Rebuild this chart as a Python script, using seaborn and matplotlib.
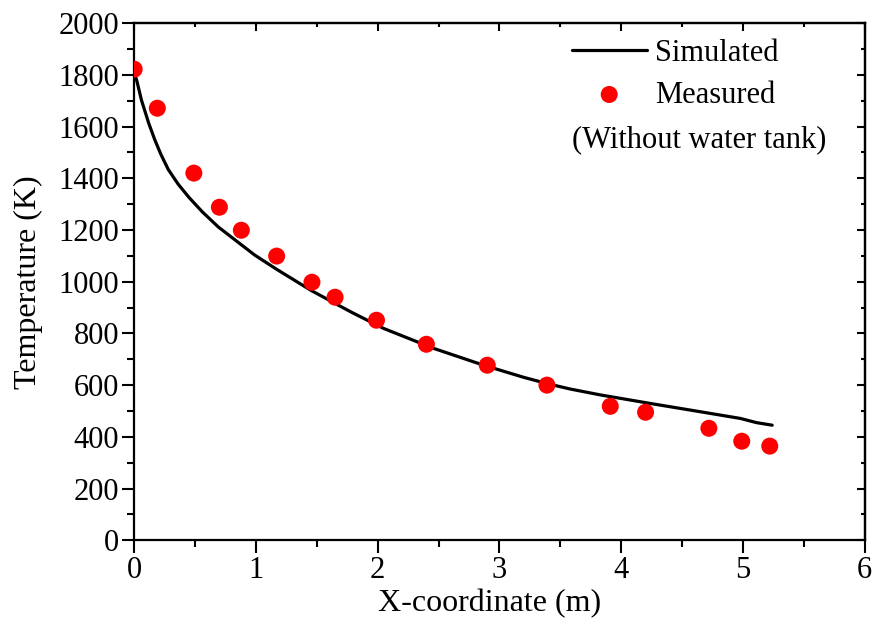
import matplotlib
matplotlib.use("Agg")
import matplotlib.pyplot as plt
import seaborn as sns
import pandas as pd

sns.set_style("ticks")
plt.rcParams['font.family'] = ['Liberation Serif', 'DejaVu Serif']
plt.rcParams['text.color'] = 'black'
plt.rcParams['axes.labelcolor'] = 'black'
plt.rcParams['xtick.color'] = 'black'
plt.rcParams['ytick.color'] = 'black'
plt.rcParams['axes.edgecolor'] = 'black'

# Simulated curve
sim_x = [0.0, 0.02, 0.06, 0.12, 0.17, 0.22, 0.28, 0.36, 0.45, 0.56, 0.69, 0.83,
         0.99, 1.17, 1.45, 1.78, 2.05, 2.46, 2.87, 3.20, 3.39, 3.58, 3.83, 4.24,
         4.65, 4.98, 5.11, 5.24]
sim_T = [1810, 1780, 1702, 1612, 1548, 1492, 1434, 1378, 1326, 1270, 1212, 1161,
         1103, 1048, 967, 883, 819, 742, 677, 630, 606, 585, 562, 529,
         497, 471, 455, 445]

# Measured points
meas_x = [0.0, 0.19, 0.49, 0.70, 0.88, 1.17, 1.46, 1.65, 1.99, 2.40, 2.90, 3.39,
          3.91, 4.20, 4.72, 4.99, 5.22]
meas_T = [1822, 1671, 1420, 1288, 1199, 1099, 998, 940, 851, 758, 677, 600,
          518, 495, 433, 383, 364]

xticks = [0, 1, 2, 3, 4, 5, 6]
yticks = [0, 200, 400, 600, 800, 1000, 1200, 1400, 1600, 1800, 2000]

sim = pd.DataFrame({"x": sim_x, "T": sim_T})
meas = pd.DataFrame({"x": meas_x, "T": meas_T})

fig = plt.figure(figsize=(8.77, 6.26), dpi=100)
ax = fig.add_axes([0.153, 0.137, 0.833, 0.826])

sns.lineplot(data=sim, x="x", y="T", ax=ax, color="black", linewidth=2.3,
             label="Simulated", sort=False)
sns.scatterplot(data=meas, x="x", y="T", ax=ax, color="#ff0000", s=150,
                edgecolor="none", label="Measured", zorder=3)

ax.set_xlim(0, 6)
ax.set_ylim(0, 2000)
ax.set_xticks(xticks)
ax.set_yticks(yticks)
ax.set_xticks([0.5 + i for i in range(6)], minor=True)
ax.set_yticks([100 + 200 * i for i in range(10)], minor=True)
ax.set_xlabel("X-coordinate (m)", fontsize=23, labelpad=3)
ax.set_ylabel("Temperature (K)", fontsize=23, labelpad=11)
ax.xaxis.label.set_x(0.487)
ax.tick_params(axis="both", which="major", labelsize=22, direction="out",
               length=9, width=1.5, pad=2)
ax.tick_params(axis="both", which="minor", direction="out", length=5, width=1.5)
for s in ax.spines.values():
    s.set_linewidth(1.6)
    s.set_visible(True)

secx = ax.secondary_xaxis("top")
secx.set_xticks(xticks)
secx.set_xticks([0.5 + i for i in range(6)], minor=True)
secx.tick_params(which="major", direction="in", length=6, width=1.5, labeltop=False)
secx.tick_params(which="minor", direction="in", length=3, width=1.5)
secx.spines["top"].set_linewidth(1.6)
secy = ax.secondary_yaxis("right")
secy.set_yticks(yticks)
secy.set_yticks([100 + 200 * i for i in range(10)], minor=True)
secy.tick_params(which="major", direction="in", length=6, width=1.5, labelright=False)
secy.tick_params(which="minor", direction="in", length=3, width=1.5)
secy.spines["right"].set_linewidth(1.6)

leg = ax.legend(loc="upper left", bbox_to_anchor=(0.599, 0.970), frameon=False,
                fontsize=22, handlelength=2.45, handletextpad=0.28,
                labelspacing=0.42, borderaxespad=0, borderpad=0)
ax.text(0.599, 0.775, "(Without water tank)", transform=ax.transAxes,
        ha="left", va="center", fontsize=22)

fig.savefig("out.png", dpi=100)
